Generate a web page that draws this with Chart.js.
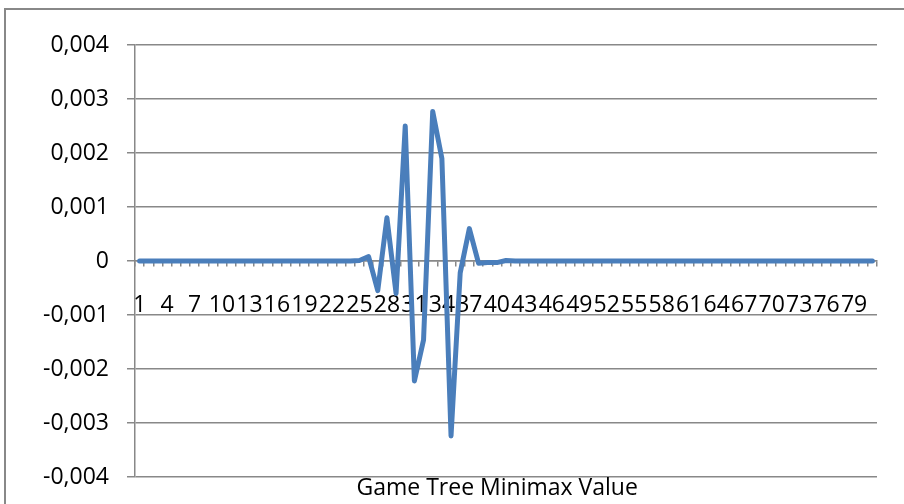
<!DOCTYPE html>
<html>
<head>
<meta charset="utf-8">
<script src="https://cdn.jsdelivr.net/npm/chart.js@4/dist/chart.umd.min.js"></script>
<style>
  html, body { margin: 0; padding: 0; background: #ffffff; }
  #wrap { width: 904px; height: 504px; }
</style>
</head>
<body>
<div id="wrap"><canvas id="chartMinimax"></canvas></div>
<script>
// Category labels (move index) and the minimax values per move
const categories = [
    '1', '2', '3', '4', '5', '6', '7', '8', '9', '10',
    '11', '12', '13', '14', '15', '16', '17', '18', '19', '20',
    '21', '22', '23', '24', '25', '26', '27', '28', '29', '30',
    '31', '32', '33', '34', '35', '36', '37', '38', '39', '40',
    '41', '42', '43', '44', '45', '46', '47', '48', '49', '50',
    '51', '52', '53', '54', '55', '56', '57', '58', '59', '60',
    '61', '62', '63', '64', '65', '66', '67', '68', '69', '70',
    '71', '72', '73', '74', '75', '76', '77', '78', '79', '80',
    '81'
];

const minimaxValues = [
    0, 0, 0, 0, 0, 0, 0, 0, 0, 0,
    0, 0, 0, 0, 0, 0, 0, 0, 0, 0,
    0, 0, 0, 0, 0.00001, 0.00008, -0.00055, 0.0008, -0.0006, 0.0025,
    -0.00222, -0.00146, 0.00277, 0.0019, -0.00324, -0.00022, 0.0006, -0.00004, -0.00003, -0.00003,
    0.00001, 0, 0, 0, 0, 0, 0, 0, 0, 0,
    0, 0, 0, 0, 0, 0, 0, 0, 0, 0,
    0, 0, 0, 0, 0, 0, 0, 0, 0, 0,
    0, 0, 0, 0, 0, 0, 0, 0, 0, 0,
    0
];

const yTickValues = [0.004, 0.003, 0.002, 0.001, 0, -0.001, -0.002, -0.003, -0.004];
const yTickLabels = ['0,004', '0,003', '0,002', '0,001', '0', '-0,001', '-0,002', '-0,003', '-0,004'];

const axisTitle = 'Game Tree Minimax Value';

const gray = '#888888';
const lineBlue = '#4a7ebb';

Chart.defaults.font.family = "'Open Sans', sans-serif";
Chart.defaults.font.size = 23;
Chart.defaults.color = '#000000';

// Outer frame around the chart object, plus the caption at the bottom
const framePlugin = {
    id: 'frame',
    beforeDraw(chart) {
        const ctx = chart.ctx;
        ctx.save();
        ctx.fillStyle = '#ffffff';
        ctx.fillRect(0, 0, chart.width, chart.height);
        ctx.strokeStyle = gray;
        ctx.lineWidth = 2;
        ctx.beginPath();
        ctx.moveTo(5, chart.height);
        ctx.lineTo(5, 9);
        ctx.lineTo(chart.width, 9);
        ctx.stroke();
        ctx.restore();
    },
    afterDraw(chart) {
        const ctx = chart.ctx;
        ctx.save();
        ctx.font = "23px 'Open Sans', sans-serif";
        ctx.fillStyle = '#000000';
        ctx.textAlign = 'center';
        ctx.textBaseline = 'alphabetic';
        ctx.fillText(axisTitle, chart.width * 0.55, chart.height - 9);
        ctx.restore();
    }
};

const ctxMinimax = document.getElementById('chartMinimax').getContext('2d');
const chartMinimax = new Chart(ctxMinimax, {
    type: 'line',
    data: {
        labels: categories,
        datasets: [{
            data: minimaxValues,
            borderColor: lineBlue,
            borderWidth: 5,
            borderJoinStyle: 'round',
            borderCapStyle: 'round',
            pointRadius: 0,
            tension: 0,
            fill: false
        }]
    },
    options: {
        responsive: true,
        maintainAspectRatio: false,
        animation: false,
        layout: { padding: { top: 45, right: 27, bottom: 27, left: 0 } },
        plugins: {
            legend: { display: false },
            tooltip: { enabled: false }
        },
        scales: {
            x: {
                type: 'category',
                position: { y: 0 },
                offset: true,
                grid: {
                    offset: true,
                    drawOnChartArea: false,
                    drawTicks: true,
                    tickLength: 5,
                    color: gray,
                    lineWidth: 1.5
                },
                border: { display: true, color: gray, width: 1.5 },
                ticks: {
                    autoSkip: false,
                    maxRotation: 0,
                    minRotation: 0,
                    padding: 26,
                    callback: (val, i) => (i % 3 === 0 ? categories[i] : '')
                }
            },
            y: {
                min: -0.004,
                max: 0.004,
                afterFit(scale) {
                    // fixed axis width; the outer padding already leaves room for the end labels
                    scale.width = 135;
                    scale.paddingTop = 0;
                    scale.paddingBottom = 0;
                },
                afterBuildTicks(scale) {
                    scale.ticks = yTickValues.map(v => ({ value: v }));
                },
                grid: {
                    color: gray,
                    lineWidth: 1.5,
                    drawTicks: true,
                    tickLength: 8
                },
                border: { display: true, color: gray, width: 1.5 },
                ticks: {
                    padding: 18,
                    callback: (val) => yTickLabels[yTickValues.indexOf(Math.round(val * 1000) / 1000)]
                }
            }
        }
    },
    plugins: [framePlugin]
});
</script>
</body>
</html>
